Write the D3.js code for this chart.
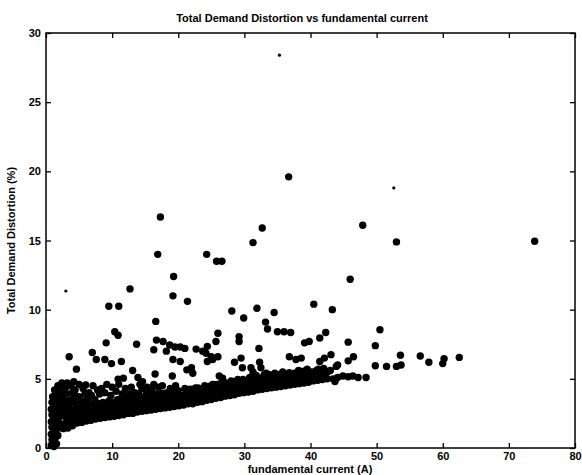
<!DOCTYPE html>
<html>
<head>
<meta charset="utf-8">
<script src="https://cdn.jsdelivr.net/npm/d3@7"></script>
<style>
  body { margin: 0; background: #fff; }
  text { font-family: "Liberation Sans", Arial, Helvetica, sans-serif; font-weight: bold; fill: #000; }
</style>
</head>
<body>
<svg id="chart" width="582" height="475"></svg>
<script>
// Axis ticks
const xTicks = [0, 10, 20, 30, 40, 50, 60, 70, 80];
const yTicks = [0, 5, 10, 15, 20, 25, 30];

// Measurements: [fundamental current (A), total demand distortion (%)]
// Low-current readings stacked near the origin
const lowCurrent = [
  [0.8,0.2],[1.2,0.1],[1.6,0.3],[0.9,0.6],[1.4,0.7],[1.8,0.9],[0.8,1.0],[1.2,1.2],
  [1.7,1.4],[0.9,1.5],[1.4,1.7],[2.0,1.8],[0.8,1.9],[1.2,2.1],[1.7,2.2],[2.2,2.3],
  [0.9,2.4],[1.4,2.6],[1.9,2.7],[0.8,2.8],[1.2,3.0],[1.7,3.1],[2.2,3.2],[0.9,3.3],
  [1.4,3.5],[1.9,3.6],[1.0,3.7],[1.5,3.9],[1.9,4.1],[1.3,4.2],[1.8,4.5],[2.2,4.3],
  [2.4,4.7],[2.5,3.8],[2.5,2.9]
];

// Main band: lowest readings at each current
const bandLower = [
  [2.6,1.4],[3.3,1.45],[4.0,1.6],[4.7,1.8],[5.4,1.85],[6.1,1.95],[6.8,2.0],[7.5,2.1],
  [8.2,2.15],[8.9,2.2],[9.6,2.25],[10.3,2.3],[11.0,2.35],[11.7,2.4],[12.4,2.5],[13.1,2.5],
  [13.8,2.6],[14.5,2.65],[15.2,2.7],[15.9,2.75],[16.6,2.8],[17.3,2.85],[18.0,2.9],[18.7,2.95],
  [19.4,3.0],[20.1,3.05],[20.8,3.1],[21.5,3.2],[22.2,3.2],[22.9,3.3],[23.6,3.35],[24.3,3.45],
  [25.0,3.5],[25.7,3.6],[26.4,3.65],[27.1,3.75],[27.8,3.8],[28.5,3.85],[29.2,3.95],[29.9,4.0],
  [30.6,4.05],[31.3,4.1],[32.0,4.2],[32.7,4.25],[33.4,4.3],[34.1,4.35],[34.8,4.4],[35.5,4.45],
  [36.2,4.5],[36.9,4.55],[37.6,4.6],[38.3,4.65],[39.0,4.7],[39.7,4.75],[40.4,4.85],[41.1,4.9],
  [41.8,4.95],[42.5,5.0]
];

// Main band: middle readings
const bandMiddle = [
  [2.9,1.8],[3.6,1.9],[4.3,2.0],[5.0,2.15],[5.7,2.2],[6.4,2.3],[7.1,2.35],[7.8,2.45],
  [8.5,2.5],[9.2,2.55],[9.9,2.6],[10.6,2.7],[11.3,2.7],[12.0,2.8],[12.7,2.85],[13.4,2.9],
  [14.1,2.95],[14.8,3.0],[15.5,3.05],[16.2,3.1],[16.9,3.2],[17.6,3.2],[18.3,3.3],[19.0,3.3],
  [19.7,3.4],[20.4,3.45],[21.1,3.5],[21.8,3.55],[22.5,3.6],[23.2,3.7],[23.9,3.75],[24.6,3.8],
  [25.3,3.9],[26.0,3.95],[26.7,4.0],[27.4,4.1],[28.1,4.15],[28.8,4.25],[29.5,4.3],[30.2,4.35],
  [30.9,4.45],[31.6,4.5],[32.3,4.55],[33.0,4.6],[33.7,4.65],[34.4,4.7],[35.1,4.75],[35.8,4.8],
  [36.5,4.85],[37.2,4.9],[37.9,4.95],[38.6,5.0],[39.3,5.05],[40.0,5.1],[40.7,5.15],[41.4,5.2],
  [42.2,5.25]
];

// Main band: upper readings
const bandUpper = [
  [3.1,2.2],[3.8,2.3],[4.5,2.4],[5.2,2.5],[5.9,2.55],[6.6,2.65],[7.3,2.7],[8.0,2.8],
  [8.7,2.85],[9.4,2.9],[10.1,2.95],[10.8,3.05],[11.5,3.1],[12.2,3.15],[12.9,3.2],[13.6,3.25],
  [14.3,3.3],[15.0,3.35],[15.7,3.4],[16.4,3.45],[17.1,3.55],[17.8,3.6],[18.5,3.65],[19.2,3.7],
  [19.9,3.75],[20.6,3.8],[21.3,3.85],[22.0,3.9],[22.7,3.95],[23.4,4.05],[24.1,4.1],[24.8,4.15],
  [25.5,4.25],[26.2,4.3],[26.9,4.35],[27.6,4.45],[28.3,4.5],[29.0,4.55],[29.7,4.65],[30.4,4.7],
  [31.1,4.75],[31.8,4.85],[32.5,4.9],[33.2,4.95],[34.0,5.0],[34.7,5.05],[35.6,5.1],[36.4,5.15],
  [37.3,5.2],[38.1,5.3],[39.0,5.35],[39.8,5.4],[40.6,5.45],[41.6,5.5]
];

// Readings along the upper edge of the band
const bandEdge = [
  [15.0,3.6],[16.0,3.75],[17.0,3.85],[18.0,3.95],[19.0,4.05],[20.0,4.15],[21.8,4.25],[23.0,4.35],
  [24.6,4.45],[25.8,4.6],[27.2,4.7],[28.6,4.8],[29.8,4.95],[31.3,5.0],[32.8,5.1],[34.2,5.2],
  [35.2,5.3],[37.6,5.4],[39.0,5.55],[40.2,5.5],[41.2,5.7]
];

// Readings sitting just above the band
const bandTop = [
  [17.5,3.95],[19.5,4.1],[21.0,4.3],[22.6,4.35],[24.0,4.5],[25.2,4.6],[26.5,4.7],[28.0,4.85],
  [29.0,4.95],[30.8,5.1],[31.8,5.25],[33.0,5.3],[34.6,5.4],[35.8,5.5],[36.8,5.45],[38.2,5.6],
  [39.5,5.7],[40.9,5.6],[42.0,5.75],[43.0,5.6],
  [43.4,5.0],[44.1,5.1],[44.9,5.2],[45.7,5.15],[46.4,5.2],[47.2,5.1],[48.4,5.1],[43.7,4.8]
];

// Scattered readings between 2.5 and 5 % at low current
const lowSpread = [
  [2.8,2.6],[2.8,3.0],[2.9,3.4],[3.0,3.9],[2.9,4.3],[3.6,2.7],[3.5,3.1],[3.7,3.5],
  [3.9,4.0],[3.8,4.5],[4.4,2.8],[4.6,3.2],[4.5,3.7],[4.4,4.2],[5.2,2.95],[5.4,3.4],
  [5.6,4.3],[6.0,3.0],[6.3,3.6],[6.5,4.0],[6.8,3.1],[7.1,4.5],[7.4,3.5],[7.6,3.05],
  [8.1,3.9],[8.4,4.3],[8.6,3.3],[9.2,4.6],[9.5,3.4],[9.8,3.8],[10.3,3.3],[10.6,4.1],
  [11.2,3.5],[11.5,3.9],[12.0,4.3],[12.4,3.5],[13.0,3.6],[13.4,4.0],[13.9,3.6],[14.5,4.3],
  [14.8,3.7],[15.6,3.8],[16.0,4.2],[16.8,3.9],[17.0,4.4],[18.3,4.0],[18.8,4.3],[19.6,4.5],
  [3.2,4.7],[5.0,4.6],
  [3.3,2.45],[4.1,2.6],[4.9,2.75],[5.7,2.8],[6.4,3.3],[7.0,2.95],[7.9,3.2],[8.9,3.1],
  [9.9,3.15],[10.8,3.5],[11.8,3.35],[12.6,3.9],[4.1,3.3],[5.0,3.7],[5.9,3.9],[6.9,3.8],
  [7.8,4.2],[8.9,4.0],[10.0,4.4],[11.0,4.6],[12.9,4.4],[14.2,4.6],[15.3,4.4],[16.3,4.6],
  [17.6,4.5],[4.2,4.8],[6.0,4.55],[12.1,3.75],[14.0,3.95],[15.2,4.0],[16.5,3.7],[17.9,3.3]
];

// Higher distortion readings
const highTdd = [
  [36.7,19.6],[47.9,16.1],[53.0,14.9],[73.9,14.95],[46.0,12.2],
  [17.3,16.7],[16.9,14.0],[24.3,14.0],[25.8,13.5],[26.6,13.5],[32.7,15.9],[31.3,14.85],
  [19.3,12.4],[12.7,11.5],[19.2,11.0],[21.4,10.6],[9.5,10.25],[11.0,10.25],
  [16.6,9.15],[28.1,9.9],[31.9,10.1],[34.5,9.8],[40.5,10.4],[43.3,10.0],[29.9,9.4],
  [10.4,8.4],[10.9,8.15],[9.1,7.6],[13.7,7.5],[16.7,7.8],[17.7,7.7],[18.7,7.45],[19.5,7.3],
  [16.3,7.1],[18.2,7.0],[20.3,7.3],[21.0,7.2],[7.0,6.9],[7.6,6.4],[8.9,6.4],[9.9,6.1],
  [11.4,6.25],[3.5,6.6],[19.2,6.4],[20.3,6.25],[21.3,5.65],[22.0,5.8],[4.6,5.7],[13.1,5.6],
  [16.5,5.35],[10.9,4.98],[11.7,5.05],[13.9,5.1],[14.6,4.8],[19.1,5.2],
  [33.2,9.1],[33.5,8.6],[35.0,8.4],[36.0,8.4],[37.0,8.35],[29.2,8.05],[29.2,7.7],
  [26.0,8.3],[25.7,7.7],[32.2,7.2],[39.1,7.6],[39.8,7.7],[41.4,7.95],[42.3,8.35],
  [22.7,7.15],[23.7,7.0],[24.2,6.85],[24.4,7.35],[36.8,6.6],[37.8,6.4],[38.6,6.5],
  [41.4,6.25],[42.1,6.5],[43.1,6.75],[24.4,6.25],[25.2,6.4],[25.0,6.6],[26.0,6.6],
  [28.5,6.2],[29.5,6.5],[32.3,6.2],[32.5,5.8],[31.0,5.8],[31.3,5.5],[29.7,5.8],
  [33.3,5.4],[33.8,5.3],[22.2,5.4],[26.2,5.2],[26.7,5.05],[40.9,5.4],[42.6,5.5],[43.9,5.9],
  [50.5,8.55],[45.7,7.65],[49.8,7.4],[44.1,6.0],[45.7,6.3],[46.5,6.6],
  [49.8,5.95],[51.5,5.9],[53.0,5.9],[53.7,6.0],[53.6,6.7],[56.6,6.65],[57.9,6.2],
  [60.2,6.45],[60.0,6.1],[62.5,6.55]
];

// Isolated single-sample readings (small markers)
const singleSamples = [[35.3,28.4],[52.6,18.8],[3.0,11.35]];

const svg = d3.select("#chart");

const x = d3.scaleLinear().domain([0, 80]).range([46, 575]);
const y = d3.scaleLinear().domain([0, 30]).range([448, 33]);

// Plot frame
svg.append("rect")
  .attr("x", x(0)).attr("y", y(30))
  .attr("width", x(80) - x(0)).attr("height", y(0) - y(30))
  .attr("fill", "none").attr("stroke", "#000").attr("stroke-width", 1.5);

// Axes with inward ticks on all four sides
function styleAxis(g) {
  g.select(".domain").remove();
  g.selectAll(".tick line").attr("stroke", "#000").attr("stroke-width", 1.3);
  g.selectAll(".tick text").style("font-size", "11px").style("font-weight", "bold")
    .style("font-family", "'Liberation Sans', Arial, sans-serif").attr("fill", "#000");
}

svg.append("g").attr("transform", `translate(0,${y(0)})`)
  .call(d3.axisBottom(x).tickValues(xTicks).tickSize(-5).tickPadding(4))
  .call(styleAxis);
svg.append("g").attr("transform", `translate(0,${y(30)})`)
  .call(d3.axisTop(x).tickValues(xTicks).tickSize(-5).tickFormat(""))
  .call(styleAxis);
svg.append("g").attr("transform", `translate(${x(0)},0)`)
  .call(d3.axisLeft(y).tickValues(yTicks).tickSize(-5).tickPadding(5))
  .call(styleAxis);
svg.append("g").attr("transform", `translate(${x(80)},0)`)
  .call(d3.axisRight(y).tickValues(yTicks).tickSize(-5).tickFormat(""))
  .call(styleAxis);

// Scatter markers
const allReadings = [].concat(lowCurrent, bandLower, bandMiddle, bandUpper, bandEdge, bandTop, lowSpread, highTdd);

svg.append("g").selectAll("circle.reading")
  .data(allReadings)
  .join("circle")
  .attr("class", "reading")
  .attr("cx", d => x(d[0]))
  .attr("cy", d => y(d[1]))
  .attr("r", 3.7)
  .attr("fill", "#000");

svg.append("g").selectAll("circle.single")
  .data(singleSamples)
  .join("circle")
  .attr("class", "single")
  .attr("cx", d => x(d[0]))
  .attr("cy", d => y(d[1]))
  .attr("r", 1.6)
  .attr("fill", "#000");

// Titles
svg.append("text")
  .attr("x", 302).attr("y", 22)
  .attr("text-anchor", "middle")
  .style("font-size", "11px")
  .text("Total Demand Distortion vs fundamental current");

svg.append("text")
  .attr("x", 310).attr("y", 473)
  .attr("text-anchor", "middle")
  .style("font-size", "11px")
  .text("fundamental current (A)");

svg.append("text")
  .attr("transform", `translate(15,${(y(0) + y(30)) / 2}) rotate(-90)`)
  .attr("text-anchor", "middle")
  .style("font-size", "11px")
  .text("Total Demand Distortion (%)");
</script>
</body>
</html>
